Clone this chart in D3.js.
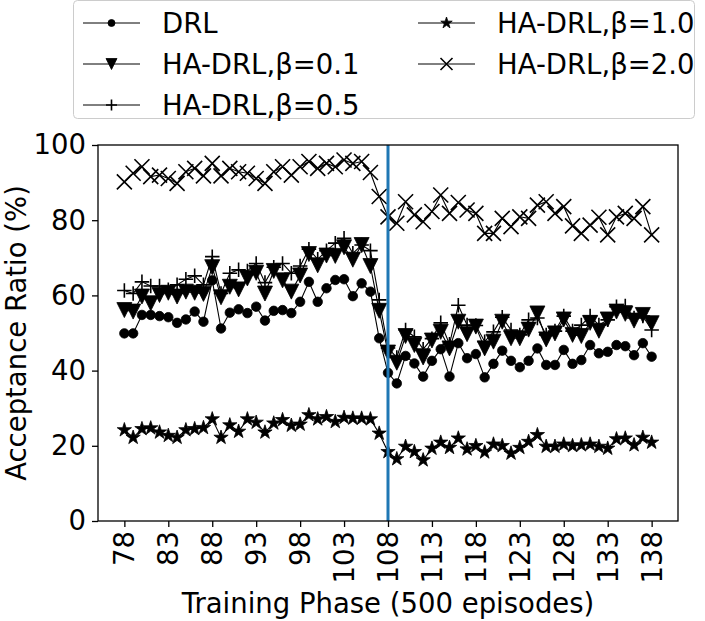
<!DOCTYPE html>
<html>
<head>
<meta charset="utf-8">
<script src="https://cdn.jsdelivr.net/npm/d3@7"></script>
<style>
  body { margin: 0; background: #fff; }
  text { font-family: "DejaVu Sans", sans-serif; }
</style>
</head>
<body>
<div id="chart"></div>
<script>
// training phases on the x axis
const phases = [78, 79, 80, 81, 82, 83, 84, 85, 86, 87, 88, 89, 90, 91, 92, 93, 94, 95, 96, 97,
    98, 99, 100, 101, 102, 103, 104, 105, 106, 107, 108, 109, 110, 111, 112, 113, 114, 115, 116, 117,
    118, 119, 120, 121, 122, 123, 124, 125, 126, 127, 128, 129, 130, 131, 132, 133, 134, 135, 136, 137, 138];
const xTicks = [78, 83, 88, 93, 98, 103, 108, 113, 118, 123, 128, 133, 138];
const yTicks = [0, 20, 40, 60, 80, 100];
const switchPhase = 108;

// acceptance ratios (%)
const drl = [49.9, 49.9, 54.8, 54.8, 54.5, 54.2, 52.7, 53.6, 55.7, 53.0,
    64.0, 51.2, 55.4, 56.3, 55.3, 57.0, 53.3, 55.9, 56.1, 55.3,
    58.3, 63.6, 58.3, 61.9, 64.1, 64.3, 59.8, 63.2, 61.0, 48.6,
    39.4, 36.6, 43.9, 41.9, 38.4, 42.6, 45.7, 38.4, 47.3, 43.3,
    44.4, 38.2, 41.8, 45.3, 42.6, 40.9, 42.6, 45.9, 41.5, 41.5,
    45.5, 41.8, 42.8, 46.8, 44.6, 45.0, 46.8, 46.5, 44.1, 47.3, 43.7];
const haDrl01 = [56.1, 55.7, 59.7, 57.9, 60.1, 60.7, 59.7, 61.0, 60.7, 60.4,
    67.5, 59.5, 62.3, 61.6, 64.5, 66.0, 60.5, 66.5, 64.0, 61.0,
    65.3, 71.0, 68.0, 70.6, 70.5, 72.8, 69.5, 73.4, 67.8, 55.9,
    44.8, 42.1, 49.2, 46.8, 43.5, 48.0, 50.3, 45.9, 53.0, 49.7,
    51.7, 45.9, 47.7, 53.0, 48.6, 48.6, 50.9, 55.2, 48.3, 49.9,
    53.6, 49.5, 49.2, 52.7, 50.6, 53.6, 55.7, 55.1, 53.3, 54.8, 52.6];
const haDrl05 = [61.3, 60.5, 63.6, 62.5, 62.5, 61.5, 62.8, 64.3, 65.2, 62.8,
    70.3, 60.5, 65.9, 66.8, 66.5, 68.5, 63.4, 67.5, 68.5, 65.9,
    67.8, 72.3, 69.6, 71.9, 73.9, 75.2, 71.2, 73.4, 71.9, 58.8,
    46.0, 43.5, 50.8, 49.0, 45.7, 48.5, 52.7, 47.0, 57.4, 52.1,
    52.0, 47.7, 50.3, 54.2, 50.8, 49.5, 53.5, 54.0, 49.5, 50.5,
    54.5, 50.5, 52.1, 54.5, 52.1, 53.5, 57.0, 57.2, 54.0, 54.5, 50.8];
const haDrl10 = [24.2, 22.2, 24.5, 24.7, 23.6, 22.7, 22.2, 24.2, 24.5, 24.8,
    27.1, 22.2, 25.5, 23.8, 27.1, 26.2, 23.6, 26.0, 26.9, 25.4,
    25.7, 28.2, 27.1, 27.7, 26.4, 27.5, 27.3, 27.3, 27.1, 23.3,
    18.4, 16.5, 19.8, 18.4, 16.2, 19.3, 20.9, 19.5, 22.0, 19.1,
    20.0, 18.3, 20.4, 20.0, 18.0, 19.5, 21.1, 22.9, 19.8, 19.8,
    20.4, 20.0, 20.2, 20.4, 19.8, 19.3, 21.8, 22.0, 20.2, 22.2, 20.9];
const haDrl20 = [90.2, 92.5, 94.2, 91.6, 92.0, 91.1, 89.8, 92.9, 93.8, 91.8,
    95.1, 91.8, 93.8, 92.9, 92.5, 91.1, 89.8, 92.9, 94.2, 92.0,
    94.2, 95.6, 93.8, 95.1, 94.2, 96.0, 95.1, 95.6, 92.7, 86.3,
    80.9, 79.2, 84.9, 81.4, 79.6, 82.3, 86.7, 81.8, 84.7, 82.7,
    81.8, 76.5, 76.5, 80.5, 78.3, 80.9, 80.5, 84.0, 84.9, 81.8,
    83.6, 78.5, 76.5, 78.7, 80.8, 76.1, 80.9, 81.8, 80.5, 83.6, 76.1];

const seriesNames = ["DRL", "HA-DRL,β=0.1", "HA-DRL,β=0.5", "HA-DRL,β=1.0", "HA-DRL,β=2.0"];
const seriesValues = [drl, haDrl01, haDrl05, haDrl10, haDrl20];
const seriesMarkers = ["circle", "triangle", "plus", "star", "cross"];

const W = 705, H = 621;
const margins = { top: 145, right: 27, bottom: 100, left: 98 };
const plotW = W - margins.left - margins.right;
const plotH = H - margins.top - margins.bottom;
const fontSize = "27.5px";

const svg = d3.select("#chart").append("svg")
    .attr("width", W)
    .attr("height", H);

const g = svg.append("g")
    .attr("transform", "translate(" + margins.left + "," + margins.top + ")");

// matplotlib style 5% padding on x
const x = d3.scaleLinear().domain([75, 141]).range([0, plotW]);
const y = d3.scaleLinear().domain([0, 100]).range([plotH, 0]);

//marker shapes, s = size in px
function markerPath(type, s) {
    const h = s / 2;
    if (type === "circle") return d3.symbol(d3.symbolCircle, Math.PI * h * h)();
    if (type === "triangle") return "M" + (-h) + "," + (-h) + "L" + h + "," + (-h) + "L0," + h + "Z";
    if (type === "star") return d3.symbol(d3.symbolStar, h * h / 0.8908130915292852)();
    if (type === "plus") return "M" + (-h) + ",0L" + h + ",0M0," + (-h) + "L0," + h;
    return "M" + (-h) + "," + (-h) + "L" + h + "," + h + "M" + (-h) + "," + h + "L" + h + "," + (-h);
}
const plotSize = { circle: 9.5, triangle: 15, plus: 14.5, star: 15, cross: 15 };
const legSize = { circle: 7, triangle: 11, plus: 11, star: 12, cross: 12 };

function drawMarker(sel, type, s) {
    const open = (type === "plus" || type === "cross");
    sel.append("path")
        .attr("d", markerPath(type, s))
        .attr("fill", open ? "none" : "black")
        .attr("stroke", "black")
        .attr("stroke-width", open ? 1.6 : 0.8);
}

// axes
const xAxis = g.append("g")
    .attr("transform", "translate(0," + plotH + ")")
    .call(d3.axisBottom(x).tickValues(xTicks).tickSize(6).tickPadding(4).tickSizeOuter(0));
xAxis.select(".domain").remove();
xAxis.selectAll("line").attr("stroke", "black").attr("stroke-width", 1.3);
xAxis.selectAll("text")
    .attr("transform", "rotate(-90)")
    .attr("text-anchor", "end")
    .attr("x", -10)
    .attr("y", 0)
    .attr("dy", "0.35em")
    .style("font-size", fontSize)
    .attr("fill", "black");

const yAxis = g.append("g")
    .call(d3.axisLeft(y).tickValues(yTicks).tickSize(6).tickPadding(6).tickSizeOuter(0));
yAxis.select(".domain").remove();
yAxis.selectAll("line").attr("stroke", "black").attr("stroke-width", 1.3);
yAxis.selectAll("text")
    .style("font-size", fontSize)
    .attr("fill", "black");

// series lines + markers
const line = d3.line()
    .x((d, i) => x(phases[i]))
    .y(d => y(d));

seriesValues.forEach((vals, k) => {
    g.append("path")
        .datum(vals)
        .attr("d", line)
        .attr("fill", "none")
        .attr("stroke", "black")
        .attr("stroke-width", 1.1);

    g.append("g")
        .selectAll("g")
        .data(vals)
        .enter()
        .append("g")
        .attr("transform", (d, i) => "translate(" + x(phases[i]) + "," + y(d) + ")")
        .each(function() {
            drawMarker(d3.select(this), seriesMarkers[k], plotSize[seriesMarkers[k]]);
        });
});

// vertical marker at phase 108
g.append("line")
    .attr("x1", x(switchPhase))
    .attr("x2", x(switchPhase))
    .attr("y1", 0)
    .attr("y2", plotH)
    .attr("stroke", "#1f77b4")
    .attr("stroke-width", 3);

// frame
g.append("rect")
    .attr("width", plotW)
    .attr("height", plotH)
    .attr("fill", "none")
    .attr("stroke", "black")
    .attr("stroke-width", 1.3);

//axis labels
svg.append("text")
    .attr("text-anchor", "middle")
    .attr("x", margins.left + plotW / 2)
    .attr("y", 613)
    .style("font-size", fontSize)
    .text("Training Phase (500 episodes)");

svg.append("text")
    .attr("text-anchor", "middle")
    .attr("transform", "rotate(-90)")
    .attr("x", -(margins.top + plotH / 2))
    .attr("y", 26)
    .style("font-size", fontSize)
    .text("Acceptance Ratio (%)");

// legend, two columns
const legend = svg.append("g").attr("class", "legend");
legend.append("rect")
    .attr("x", 73.5)
    .attr("y", 0.5)
    .attr("width", 621)
    .attr("height", 118)
    .attr("rx", 4)
    .attr("fill", "white")
    .attr("fill-opacity", 0.85)
    .attr("stroke", "#cccccc")
    .attr("stroke-width", 1);

const legItems = legend.selectAll(".legend-item")
    .data(seriesNames)
    .enter()
    .append("g")
    .attr("class", "legend-item")
    .attr("transform", (d, i) => {
        const col = i < 3 ? 0 : 1;
        const row = i < 3 ? i : i - 3;
        return "translate(" + (83 + col * 335) + "," + (23 + row * 41) + ")";
    });

legItems.append("line")
    .attr("x1", 0)
    .attr("x2", 57)
    .attr("stroke", "black")
    .attr("stroke-width", 1);

legItems.append("g")
    .attr("transform", "translate(28.5,0)")
    .each(function(d, i) {
        drawMarker(d3.select(this), seriesMarkers[i], legSize[seriesMarkers[i]]);
    });

legItems.append("text")
    .attr("x", 79)
    .attr("dy", "0.36em")
    .style("font-size", fontSize)
    .text(d => d);
</script>
</body>
</html>
